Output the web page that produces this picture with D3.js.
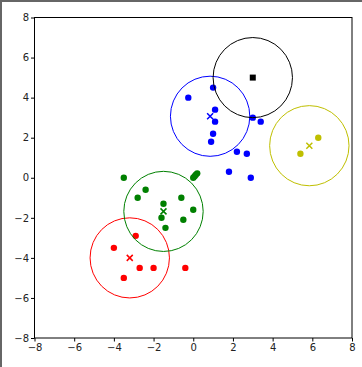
<!DOCTYPE html>
<html><head><meta charset="utf-8">
<script src="https://cdn.jsdelivr.net/npm/d3@7"></script>
<style>html,body{margin:0;padding:0;background:#fff;}svg{display:block;}</style>
</head><body>
<script>
const xTicks = [-8,-6,-4,-2,0,2,4,6,8];
const yTicks = [-8,-6,-4,-2,0,2,4,6,8];
const clusterNames = ["red","green","blue","yellow","black"];
const clusterColors = ["#ff0000","#008000","#0000ff","#bfbf00","#000000"];
const centroidX = [-3.2,-1.5,0.85,5.85,3.0];
const centroidY = [-4.0,-1.68,3.07,1.6,5.0];
const radius = 2;
const redPts = [[-4,-3.5],[-2.9,-2.9],[-2.7,-4.5],[-2,-4.5],[-0.4,-4.5],[-3.5,-5]];
const greenPts = [[-3.5,0],[-2.4,-0.6],[-2.8,-1],[-1.5,-1.3],[-1.6,-2],[-1.4,-2.5],[-0.6,-1],[-0.5,-2.1],[0,-1.6],[0,0],[0.07,0.08],[0.13,0.15],[0.2,0.22]];
const bluePts = [[-0.25,4],[1,4.5],[1.1,3.4],[1.1,2.8],[1,2.2],[0.9,1.8],[2.2,1.3],[2.7,1.2],[1.8,0.3],[2.9,0],[3,3],[3.4,2.8]];
const yellowPts = [[5.4,1.2],[6.3,2]];
const blackPts = [[3,5]];
const allPts = [redPts, greenPts, bluePts, yellowPts, blackPts];

const W = 362, H = 367;
const L = 34.5, R = 352, T = 17.5, B = 338;
const svg = d3.select("body").append("svg").attr("width", W).attr("height", H);
svg.append("rect").attr("width", W).attr("height", H).attr("fill", "#fff");
svg.append("line").attr("x1",1).attr("x2",1).attr("y1",0).attr("y2",H).attr("stroke","#666").attr("stroke-width",2);
svg.append("line").attr("x1",0).attr("x2",W).attr("y1",1).attr("y2",1).attr("stroke","#666").attr("stroke-width",2);

const x = d3.scaleLinear().domain([-8,8]).range([L,R]);
const y = d3.scaleLinear().domain([-8,8]).range([B,T]);

const clip = svg.append("clipPath").attr("id","c").append("rect").attr("x",L).attr("y",T).attr("width",R-L).attr("height",B-T);
const g = svg.append("g").attr("clip-path","url(#c)");

// points
allPts.forEach((pts, i) => {
  if (i === 4) {
    g.selectAll(null).data(pts).enter().append("rect")
      .attr("x", d => x(d[0]) - 3).attr("y", d => y(d[1]) - 3)
      .attr("width", 6).attr("height", 6).attr("fill", clusterColors[i]);
  } else {
    g.selectAll(null).data(pts).enter().append("circle")
      .attr("cx", d => x(d[0])).attr("cy", d => y(d[1])).attr("r", 3.2)
      .attr("fill", clusterColors[i]);
  }
});

// circles
clusterNames.forEach((n, i) => {
  const cx = x(centroidX[i]), cy = y(centroidY[i]);
  const rx = x(centroidX[i] + radius) - cx, ry = cy - y(centroidY[i] + radius);
  g.append("ellipse").attr("cx", cx).attr("cy", cy).attr("rx", rx).attr("ry", ry)
    .attr("fill","none").attr("stroke", clusterColors[i]).attr("stroke-width", 1);
  if (i !== 4) {
    const s = 3;
    g.append("path").attr("d", `M${cx-s},${cy-s}L${cx+s},${cy+s}M${cx-s},${cy+s}L${cx+s},${cy-s}`)
      .attr("stroke", clusterColors[i]).attr("stroke-width", 1.5).attr("fill","none");
  }
});

// axes
const xa = svg.append("g").attr("transform", `translate(0,${B})`)
  .call(d3.axisBottom(x).tickValues(xTicks).tickSize(3.5).tickPadding(2).tickFormat(d => d < 0 ? "\u2212" + Math.abs(d) : d));
const ya = svg.append("g").attr("transform", `translate(${L},0)`)
  .call(d3.axisLeft(y).tickValues(yTicks).tickSize(3.5).tickPadding(2).tickFormat(d => d < 0 ? "\u2212" + Math.abs(d) : d));
[xa, ya].forEach(a => {
  a.select(".domain").remove();
  a.selectAll("text").attr("font-family","DejaVu Sans").attr("font-size", 10).attr("fill","#222");
  a.selectAll("line").attr("stroke","#000");
});
svg.append("rect").attr("x",L).attr("y",T).attr("width",R-L).attr("height",B-T)
  .attr("fill","none").attr("stroke","#000").attr("stroke-width",1);
</script>
</body></html>
